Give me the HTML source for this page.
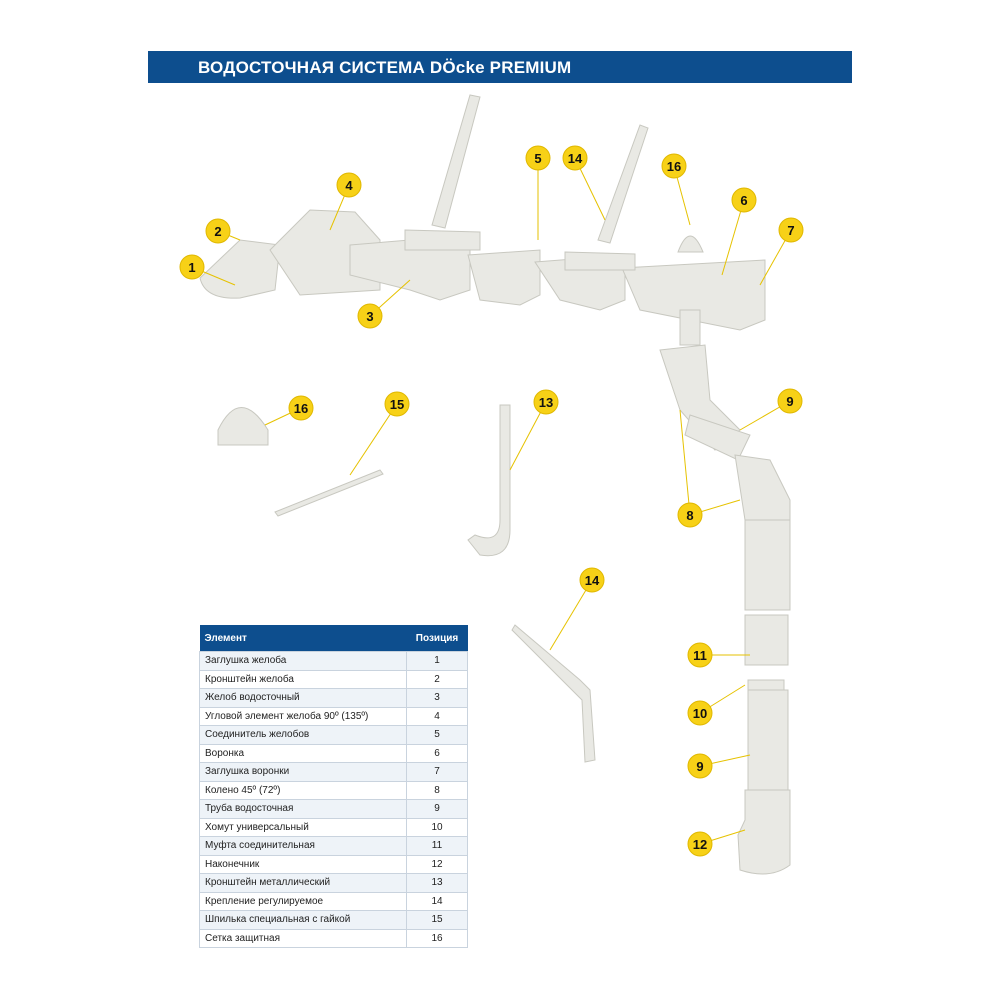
<!DOCTYPE html>
<html><head><meta charset="utf-8"><style>
body{margin:0;background:#fff;width:1000px;height:1000px;position:relative;overflow:hidden;font-family:"Liberation Sans",sans-serif}
.hdr{position:absolute;left:148px;top:51px;width:704px;height:32px;background:#0d4e8e;color:#fff;font-weight:bold;font-size:17px;line-height:33px;padding-left:50px;box-sizing:border-box;letter-spacing:0.2px}
table{position:absolute;left:199px;top:625px;border-collapse:collapse;font-size:10px;color:#222}
td{height:17.5px;border:1px solid #c9d3de;padding:0 5px}
td.n{text-align:center;width:50px}
tr:nth-child(even) td{background:#eef3f8}
th{background:#0d4e8e;color:#fff;height:26px;text-align:left;padding:0 5px;font-size:10px}
</style></head><body>
<div class="hdr">ВОДОСТОЧНАЯ СИСТЕМА DÖcke PREMIUM</div>
<svg width="1000" height="1000" style="position:absolute;left:0;top:0">
<g fill="#e9e9e4" stroke="#c8c8c0" stroke-width="1">
<!-- gutters -->
<path d="M200 278 Q205 300 240 298 L275 290 L280 245 L240 240 Z"/>
<path d="M270 250 L310 210 L355 212 L380 240 L380 290 L300 295 Z"/>
<path d="M350 245 L470 235 L470 290 L440 300 L410 290 L350 275 Z"/>
<path d="M468 255 L540 250 L540 295 L520 305 L480 300 Z"/>
<path d="M535 262 L625 255 L625 300 L600 310 L560 300 Z"/>
<path d="M622 268 L765 260 L765 320 L740 330 L640 310 Z"/>
<path d="M405 230 L480 232 L480 250 L405 250 Z"/>
<path d="M565 252 L635 254 L635 270 L565 270 Z"/>
<!-- rods -->
<path d="M432 225 L470 95 L480 97 L445 228 Z"/>
<path d="M598 240 L640 125 L648 128 L610 243 Z"/>
<!-- outlet & pipes -->
<path d="M680 310 L700 310 L700 345 L680 345 Z"/>
<path d="M660 350 L705 345 L710 400 L740 430 L715 450 L680 410 Z"/>
<path d="M690 415 L750 435 L738 460 L685 435 Z"/>
<path d="M735 455 L770 460 L790 500 L790 520 L745 520 Z"/>
<path d="M745 520 L790 520 L790 610 L745 610 Z"/>
<path d="M745 615 L788 615 L788 665 L745 665 Z"/>
<path d="M748 680 L784 680 L784 690 L748 690 Z"/>
<path d="M748 690 L788 690 L788 790 L748 790 Z"/>
<path d="M745 790 L790 790 L790 865 Q770 880 740 870 L738 835 L745 820 Z"/>
<!-- net 16 -->
<path d="M218 430 Q240 385 268 430 L268 445 L218 445 Z"/>
<path d="M678 252 Q690 220 703 252 Z"/>
<!-- 15 stud -->
<path d="M275 512 L380 470 L383 474 L278 516 Z"/>
<!-- 13 bracket -->
<path d="M500 405 L510 405 L510 530 Q510 560 480 555 L468 540 L475 535 Q500 545 500 520 Z"/>
<!-- 14 lower -->
<path d="M515 625 L580 680 L590 690 L595 760 L585 762 L582 700 L512 630 Z"/>
</g>
<g stroke="#e6c200" stroke-width="1">
<line x1="192" y1="267" x2="235" y2="285"/><line x1="218" y1="231" x2="240" y2="240"/>
<line x1="370" y1="316" x2="410" y2="280"/><line x1="349" y1="185" x2="330" y2="230"/>
<line x1="538" y1="158" x2="538" y2="240"/><line x1="575" y1="158" x2="605" y2="220"/>
<line x1="674" y1="166" x2="690" y2="225"/><line x1="744" y1="200" x2="722" y2="275"/>
<line x1="791" y1="230" x2="760" y2="285"/><line x1="301" y1="408" x2="265" y2="425"/>
<line x1="397" y1="404" x2="350" y2="475"/><line x1="546" y1="402" x2="510" y2="470"/>
<line x1="790" y1="401" x2="740" y2="430"/><line x1="690" y1="515" x2="680" y2="410"/>
<line x1="690" y1="515" x2="740" y2="500"/><line x1="592" y1="580" x2="550" y2="650"/>
<line x1="700" y1="655" x2="750" y2="655"/><line x1="700" y1="713" x2="745" y2="685"/>
<line x1="700" y1="766" x2="750" y2="755"/><line x1="700" y1="844" x2="745" y2="830"/>
</g>
<g font-family="Liberation Sans" font-weight="bold" font-size="13" text-anchor="middle">
<g fill="#f7d117" stroke="#e0b800">
<circle cx="192" cy="267" r="12"/><circle cx="218" cy="231" r="12"/><circle cx="370" cy="316" r="12"/><circle cx="349" cy="185" r="12"/>
<circle cx="538" cy="158" r="12"/><circle cx="575" cy="158" r="12"/><circle cx="674" cy="166" r="12"/><circle cx="744" cy="200" r="12"/>
<circle cx="791" cy="230" r="12"/><circle cx="301" cy="408" r="12"/><circle cx="397" cy="404" r="12"/><circle cx="546" cy="402" r="12"/>
<circle cx="790" cy="401" r="12"/><circle cx="690" cy="515" r="12"/><circle cx="592" cy="580" r="12"/><circle cx="700" cy="655" r="12"/>
<circle cx="700" cy="713" r="12"/><circle cx="700" cy="766" r="12"/><circle cx="700" cy="844" r="12"/>
</g>
<g fill="#111">
<text x="192" y="272">1</text><text x="218" y="236">2</text><text x="370" y="321">3</text><text x="349" y="190">4</text>
<text x="538" y="163">5</text><text x="575" y="163">14</text><text x="674" y="171">16</text><text x="744" y="205">6</text>
<text x="791" y="235">7</text><text x="301" y="413">16</text><text x="397" y="409">15</text><text x="546" y="407">13</text>
<text x="790" y="406">9</text><text x="690" y="520">8</text><text x="592" y="585">14</text><text x="700" y="660">11</text>
<text x="700" y="718">10</text><text x="700" y="771">9</text><text x="700" y="849">12</text>
</g></g>
</svg>
<table>
<tr><th style="width:197px">Элемент</th><th style="width:50px;text-align:center">Позиция</th></tr>
<tr><td>Заглушка желоба</td><td class="n">1</td></tr>
<tr><td>Кронштейн желоба</td><td class="n">2</td></tr>
<tr><td>Желоб водосточный</td><td class="n">3</td></tr>
<tr><td>Угловой элемент желоба 90º (135º)</td><td class="n">4</td></tr>
<tr><td>Соединитель желобов</td><td class="n">5</td></tr>
<tr><td>Воронка</td><td class="n">6</td></tr>
<tr><td>Заглушка воронки</td><td class="n">7</td></tr>
<tr><td>Колено 45º (72º)</td><td class="n">8</td></tr>
<tr><td>Труба водосточная</td><td class="n">9</td></tr>
<tr><td>Хомут универсальный</td><td class="n">10</td></tr>
<tr><td>Муфта соединительная</td><td class="n">11</td></tr>
<tr><td>Наконечник</td><td class="n">12</td></tr>
<tr><td>Кронштейн металлический</td><td class="n">13</td></tr>
<tr><td>Крепление регулируемое</td><td class="n">14</td></tr>
<tr><td>Шпилька специальная с гайкой</td><td class="n">15</td></tr>
<tr><td>Сетка защитная</td><td class="n">16</td></tr>
</table>
</body></html>
